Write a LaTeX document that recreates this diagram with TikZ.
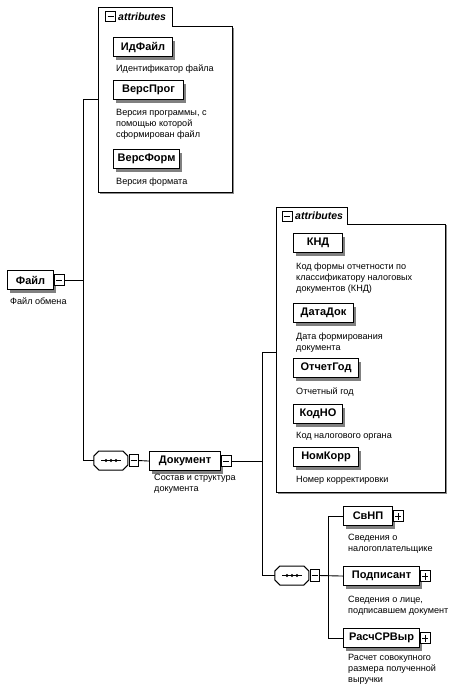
\documentclass[tikz,border=0pt]{standalone}
\usepackage{fontspec}
\setmainfont{Liberation Sans}
\usetikzlibrary{calc}
\tikzset{
  elem/.style={draw, line width=1.1pt, fill=white, font=\bfseries\fontsize{11}{13}\selectfont,
    minimum height=19pt, inner sep=0pt, anchor=north west},
  eshadow/.style={fill=black!50},
  desc/.style={font=\fontsize{9.1}{11}\selectfont, anchor=north west, align=left, inner sep=0pt},
  btnbase/.style={draw, line width=0.8pt, fill=white, minimum width=10pt, minimum height=11pt, inner sep=0pt},
  minusbtn/.style={btnbase, path picture={\draw[line width=1pt]
      ([xshift=-3pt]path picture bounding box.center) -- ([xshift=3pt]path picture bounding box.center);}},
  plusbtn/.style={btnbase, path picture={\draw[line width=1pt]
      ([xshift=-3pt]path picture bounding box.center) -- ([xshift=3pt]path picture bounding box.center)
      ([yshift=-3.5pt]path picture bounding box.center) -- ([yshift=3.5pt]path picture bounding box.center);}},
  conn/.style={line width=0.9pt},
  grp/.style={draw, line width=0.9pt, fill=white},
  grpshadow/.style={fill=black!45},
  tabtext/.style={font=\bfseries\itshape\fontsize{10.5}{12}\selectfont, anchor=west, inner sep=0pt},
  seqshadow/.style={fill=black!50},
  seqline/.style={draw, line width=1pt, fill=white},
}
% element box with its drop shadow: #1 name, #2 top-left, #3 width, #4 text
\newcommand\elembox[4]{%
  \fill[eshadow] ($#2+(3,3.5)$) rectangle ++(#3,19);
  \node[elem, minimum width=#3pt] (#1) at #2 {#4};}
\newcommand\seqoct[2]{% #1 node name, #2 style
  \path[#2] (#1.west) -- ++(0,-4.5) -- ++(5,-5) -- ++(24,0) -- ++(5,5) -- ++(0,9) -- ++(-5,5) -- ++(-24,0) -- ++(-5,-5) -- cycle;}
\newcommand\seqdots[1]{%
  \draw[line width=0.9pt] ([xshift=-10pt]#1.center) -- ([xshift=10pt]#1.center);
  \fill ([xshift=-5pt]#1.center) circle (1.6pt) (#1.center) circle (1.6pt) ([xshift=5pt]#1.center) circle (1.6pt);}
\begin{document}
\begin{tikzpicture}[x=1pt,y=-1pt]
\useasboundingbox[fill=white] (0,0) rectangle (452,691);

% ---------- group 1 (attributes of Файл)
\fill[grpshadow] (99.5,194) -- (99.5,28) -- (234,28) -- (234,194) -- cycle;
\path[grp] (98,192) -- (98,7) -- (172,7) -- (172,26) -- (232,26) -- (232,192) -- cycle;
\node[inner sep=0pt, minimum width=134pt, minimum height=166pt, anchor=north west] (g1) at (98,26) {};
\node[minusbtn, minimum width=10pt, minimum height=10pt] (g1tb) at (110.5,16.5) {};
\node[tabtext] (g1t) at (118,16.5) {attributes};

\elembox{idf}{(113,37)}{59}{ИдФайл}
\node[desc] (idfd) at (116,65) {Идентификатор файла};
\elembox{vprog}{(113,80)}{70}{ВерсПрог}
\node[desc] (vprogd) at (116,109) {Версия программы, с\\помощью которой\\сформирован файл};
\elembox{vform}{(113,149)}{66}{ВерсФорм}
\node[desc] (vformd) at (116,178) {Версия формата};

% ---------- Файл
\elembox{file}{(7,270)}{46}{Файл}
\node[minusbtn] (fileb) at ([xshift=5pt]file.east) {};
\node[desc] (filed) at (10,298) {Файл обмена};

% ---------- trunk
\coordinate (a1) at (83,99);
\coordinate (a2) at (83,460.5);
\draw[conn] (g1.west |- a1) -- (a1) -- (a2);
\draw[conn] (fileb.east) -- (fileb.east -| a1);

% ---------- sequence 1
\node[inner sep=0pt, minimum width=34pt, minimum height=19pt] (seq1) at (111,460.5) {};
\seqoct{seq1}{seqshadow, shift={(3,3)}}
\seqoct{seq1}{seqline}
\seqdots{seq1}
\node[minusbtn, minimum width=9pt, minimum height=12pt] (seq1b) at (133.5,460.5) {};
\draw[conn] (a2) -- (seq1.west);

% ---------- Документ
\elembox{doc}{(149,451)}{71}{Документ}
\node[minusbtn] (docb) at ([xshift=5pt]doc.east) {};
\node[desc] (docd) at (154,474) {Состав и структура\\документа};
\draw[conn] (seq1b.east) -- (doc.west);

% ---------- group 2 (attributes of Документ)
\fill[grpshadow] (277.5,494) -- (277.5,225) -- (447,225) -- (447,494) -- cycle;
\path[grp] (276,492) -- (276,207) -- (347,207) -- (347,224) -- (445,224) -- (445,492) -- cycle;
\node[inner sep=0pt, minimum width=169pt, minimum height=268pt, anchor=north west] (g2) at (276,224) {};
\node[minusbtn, minimum width=10pt, minimum height=10pt] (g2tb) at (287,216) {};
\node[tabtext] (g2t) at (295,216) {attributes};

\elembox{knd}{(293,233)}{49}{КНД}
\node[desc] (kndd) at (296,263) {Код формы отчетности по\\классификатору налоговых\\документов (КНД)};
\elembox{datad}{(293,303)}{60}{ДатаДок}
\node[desc] (datadd) at (296,333) {Дата формирования\\документа};
\elembox{otg}{(293,358)}{65}{ОтчетГод}
\node[desc] (otgd) at (296,388) {Отчетный год};
\elembox{kodno}{(293,404)}{49}{КодНО}
\node[desc] (kodnod) at (296,432) {Код налогового органа};
\elembox{nomk}{(293,447)}{65}{НомКорр}
\node[desc] (nomkd) at (296,476) {Номер корректировки};

% ---------- second trunk
\coordinate (b1) at (262,352);
\coordinate (b3) at (262,575.5);
\draw[conn] (g2.west |- b1) -- (b1) -- (b3);
\draw[conn] (docb.east) -- (docb.east -| b1);

% ---------- sequence 2
\node[inner sep=0pt, minimum width=34pt, minimum height=19pt] (seq2) at (292,575.5) {};
\seqoct{seq2}{seqshadow, shift={(3,3)}}
\seqoct{seq2}{seqline}
\seqdots{seq2}
\node[minusbtn, minimum width=9pt, minimum height=12pt] (seq2b) at (314.5,575.5) {};
\draw[conn] (b3) -- (seq2.west);

% ---------- children
\elembox{svnp}{(343,506)}{49}{СвНП}
\node[plusbtn] (svnpb) at ([xshift=5pt]svnp.east) {};
\node[desc] (svnpd) at (348,534) {Сведения о\\налогоплательщике};
\elembox{podp}{(343,566)}{76}{Подписант}
\node[plusbtn] (podpb) at ([xshift=5pt]podp.east) {};
\node[desc] (podpd) at (348,596) {Сведения о лице,\\подписавшем документ};
\elembox{rasch}{(343,628)}{76}{РасчСРВыр}
\node[plusbtn] (raschb) at ([xshift=5pt]rasch.east) {};
\node[desc] (raschd) at (348,654) {Расчет совокупного\\размера полученной\\выручки};

\path (rasch.west) ++(-15,0) coordinate (c3);
\draw[conn] (svnp.west) -| (c3) -- (rasch.west);
\draw[conn] (seq2b.east) -- (podp.west);
\end{tikzpicture}
\end{document}
